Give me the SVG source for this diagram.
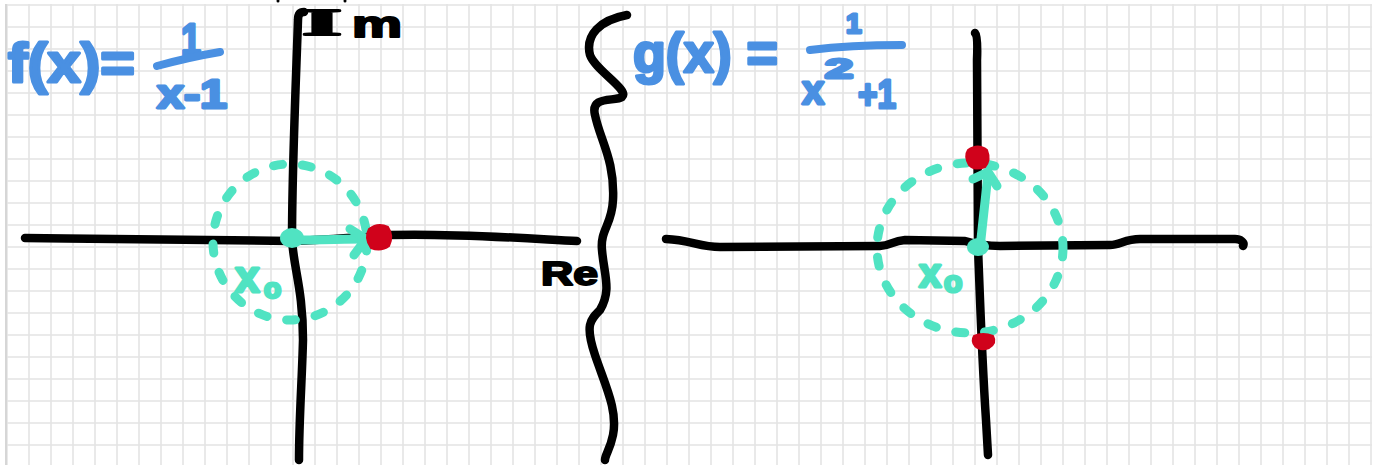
<svg xmlns="http://www.w3.org/2000/svg" width="1375" height="465" viewBox="0 0 1375 465">
<style>
.ink{fill:none;stroke:#000;stroke-width:8.5;stroke-linecap:round;stroke-linejoin:round}
.tl{fill:none;stroke:#50E3C2;stroke-width:9;stroke-linecap:round;stroke-linejoin:round}
.dash{stroke-dasharray:9 20}
.bl{fill:none;stroke:#4A90E2;stroke-width:8;stroke-linecap:round}
.bt{fill:#4A90E2;stroke:#4A90E2;stroke-width:3;stroke-linejoin:round;font-family:"Liberation Sans",Arial,sans-serif;font-weight:bold}
.kt{fill:#000;stroke:#000;stroke-width:2;stroke-linejoin:round;font-weight:bold}
.tt{fill:#50E3C2;stroke:#50E3C2;stroke-width:3;stroke-linejoin:round;font-family:"Liberation Sans",Arial,sans-serif;font-weight:bold}
.red{fill:#D0021B;stroke:#D0021B;stroke-width:2;stroke-linejoin:round}
</style>
<defs>
<pattern id="grid" x="6" y="4" width="22" height="22" patternUnits="userSpaceOnUse">
<path d="M1,0 V22 M0,1 H22" fill="none" stroke="#e4e4e4" stroke-width="1.6"/>
</pattern>
</defs>
<rect width="1375" height="465" fill="#fff"/>
<rect x="6" y="4" width="1366" height="461" fill="url(#grid)"/>
<line x1="6" y1="4" x2="6" y2="465" stroke="#d6d6d6" stroke-width="2"/>
<g id="top-marks" fill="#000">
<circle cx="278" cy="1" r="1.5"/>
<circle cx="345" cy="1" r="1.5"/>
</g>
<g id="left-plane">
<path class="ink" d="M25,238 C120,239 220,241 290,241 C330,240 360,237 390,235 C450,233 520,238 577,241"/>
<path class="ink" d="M304,12 Q298,12 298,20 C296,80 292,170 292,240 C294,270 303,290 303,340 C302,380 299,420 299,460"/>
<ellipse class="tl dash" cx="290" cy="242" rx="77" ry="78"/>
<path class="tl" d="M292,240 C320,240 345,239 365,239"/>
<path class="tl" d="M350,229 L366,239 L354,255"/>
<ellipse cx="292" cy="238" rx="12" ry="10" fill="#50E3C2"/>
<path class="red" d="M369,229 Q378,222 388,227 Q394,236 389,246 Q381,252 371,248 Q364,238 369,229Z"/>
<text class="tt" x="235" y="292" font-size="44">x</text>
<text class="tt" x="264" y="298" font-size="28">o</text>
</g>
<g id="left-formula">
<text class="bt" x="8" y="82" font-size="56" textLength="127" lengthAdjust="spacingAndGlyphs">f(x)=</text>
<text class="bt" x="181" y="55" font-size="44" textLength="20" lengthAdjust="spacingAndGlyphs">1</text>
<path class="bl" d="M157,66 Q190,57 220,52"/>
<text class="bt" x="157" y="108" font-size="40" textLength="70" lengthAdjust="spacingAndGlyphs">x-1</text>
</g>
<g id="labels">
<text class="kt" x="302" y="35" font-size="38" font-family="Liberation Serif,serif" textLength="40" lengthAdjust="spacingAndGlyphs">I</text>
<text class="kt" x="352" y="37" font-size="36" font-family="Liberation Sans,Arial,sans-serif" textLength="50" lengthAdjust="spacingAndGlyphs">m</text>
<text class="kt" x="541" y="285" font-size="34" font-family="Liberation Sans,Arial,sans-serif" textLength="57" lengthAdjust="spacingAndGlyphs">Re</text>
</g>
<g id="brace">
<path class="ink" d="M627,15 C600,20 585,35 590,55 C595,70 630,90 622,97 C615,102 590,95 595,115 C600,140 615,160 613,200 C612,225 600,230 602,250 C604,275 612,290 600,310 C590,320 585,325 595,355 C605,385 618,410 613,435 C610,450 605,455 605,460"/>
</g>
<g id="right-formula">
<text class="bt" x="633" y="72" font-size="56" textLength="145" lengthAdjust="spacingAndGlyphs">g(x) =</text>
<path class="bl" d="M810,50 Q850,45 902,45"/>
<text class="bt" x="846" y="33" font-size="28">1</text>
<text class="bt" x="802" y="104" font-size="40">x</text>
<text class="bt" x="825" y="78" font-size="28" textLength="28" lengthAdjust="spacingAndGlyphs">2</text>
<text class="bt" x="858" y="108" font-size="40" textLength="38" lengthAdjust="spacingAndGlyphs">+1</text>
</g>
<g id="right-plane">
<path class="ink" d="M666,239 C690,240 700,247 720,247 L880,246 C890,246 892,241 905,240 L965,241 C975,244 985,246 1000,246 L1110,245 C1120,245 1125,239 1140,239 L1235,239 C1240,239 1245,242 1243,246"/>
<path class="ink" d="M975,33 Q978,36 977,60 C977,130 978,200 978,247 C980,300 982,360 986,420 L988,455"/>
<ellipse class="tl dash" cx="970" cy="248" rx="93" ry="85"/>
<path class="tl" d="M980,248 L988,174"/>
<path class="tl" d="M973,179 L988,172 L997,186"/>
<ellipse cx="978" cy="247" rx="11" ry="9" fill="#50E3C2"/>
<path class="red" d="M968,150 Q978,143 987,150 Q991,160 985,167 Q975,171 969,165 Q964,156 968,150Z"/>
<path class="red" d="M974,336 Q983,332 993,336 Q997,343 989,348 Q980,351 975,346 Q971,341 974,336Z"/>
<text class="tt" x="919" y="287" font-size="40">x</text>
<text class="tt" x="944" y="292" font-size="30">o</text>
</g>
</svg>
